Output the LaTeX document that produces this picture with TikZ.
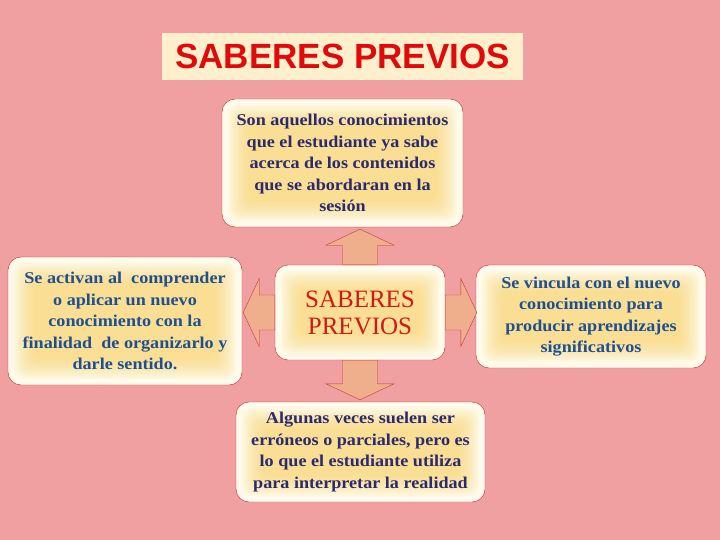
\documentclass[tikz,border=0pt]{standalone}
\usepackage{fontspec}
\setmainfont{Liberation Serif}
\newfontfamily\headfont{Liberation Sans}
\newfontfamily\boxfont{Liberation Serif}[FakeStretch=1.1]
\usepackage{tikz}
\usetikzlibrary{positioning,calc}

\definecolor{bgpink}{RGB}{240,160,160}
\definecolor{titlered}{RGB}{225,10,10}
\definecolor{titlecream}{RGB}{255,240,205}
\definecolor{boxline}{RGB}{190,40,40}
\definecolor{boxcream}{RGB}{255,251,236}
\definecolor{glowyellow}{RGB}{250,212,105}
\definecolor{navytext}{RGB}{42,42,112}
\definecolor{steeltext}{RGB}{30,80,145}
\definecolor{midred}{RGB}{205,25,25}
\definecolor{arrowfill}{RGB}{240,175,140}
\definecolor{arrowline}{RGB}{200,55,55}

\tikzset{
  infobox/.style={draw=boxline, fill=boxcream, rounded corners=13pt, align=center,
    inner sep=0pt,
    path picture={
      \foreach \k in {1,...,10}
        \fill[glowyellow, opacity=0.1, rounded corners=9pt]
          ([shift={(4pt+2.2pt*\k,4pt+2.2pt*\k)}]path picture bounding box.south west)
          rectangle ([shift={(-4pt-2.2pt*\k,-4pt-2.2pt*\k)}]path picture bounding box.north east);
    }},
  boxtext/.style={font=\boxfont\fontsize{16.5}{21.6}\selectfont\bfseries},
  bigarrow/.style={draw=arrowline, fill=arrowfill, line join=miter,
    to path={
      ($(\tikztotarget)!16pt!(\tikztostart)$) coordinate (hb)
      ($(\tikztostart)!17.5pt!90:(\tikztotarget)$)
      -- ($(hb)!17.5pt!90:(\tikztotarget)$)
      -- ($(hb)!34pt!90:(\tikztotarget)$)
      -- (\tikztotarget)
      -- ($(hb)!34pt!-90:(\tikztotarget)$)
      -- ($(hb)!17.5pt!-90:(\tikztotarget)$)
      -- ($(\tikztostart)!17.5pt!-90:(\tikztotarget)$)
      -- cycle
    }}
}

\begin{document}
\begin{tikzpicture}[x=1pt, y=-1pt]

\useasboundingbox (0,0) rectangle (720,540);
\fill[bgpink] (0,0) rectangle (720,540);

% title
\node[fill=titlecream, minimum width=361pt, minimum height=47pt, inner sep=0pt,
  text=titlered, font=\headfont\fontsize{35}{40}\selectfont\bfseries]
  (title) at (342.5,56.5) {SABERES PREVIOS};

% boxes
\node[infobox, boxtext, text=navytext, minimum width=241pt, minimum height=128pt]
  (top) at (342.5,163) {Son aquellos conocimientos\\que el estudiante ya sabe\\acerca de los contenidos\\que se abordaran en la\\sesión};
\node[infobox, boxtext, text=steeltext, minimum width=234pt, minimum height=128pt]
  (left) at (125,321) {Se activan al~ comprender\\o aplicar un nuevo\\conocimiento con la\\finalidad~ de organizarlo y\\darle sentido.};
\node[infobox, text=midred, minimum width=170pt, minimum height=95pt,
  font=\fontsize{25}{27}\selectfont]
  (mid) at (360,312.5) {SABERES\\PREVIOS};
\node[infobox, boxtext, text=steeltext, minimum width=230pt, minimum height=103pt]
  (right) at (591,316.5) {Se vincula con el nuevo\\conocimiento para\\producir aprendizajes\\significativos};
\node[infobox, boxtext, text=navytext, minimum width=249pt, minimum height=100pt]
  (bottom) at (360.5,452) {Algunas veces suelen ser\\erróneos o parciales, pero es\\lo que el estudiante utiliza\\para interpretar la realidad};

% arrows
\draw[bigarrow] (mid.north) to ([yshift=-2pt]mid.north |- top.south);
\draw[bigarrow] (mid.south) to ([yshift=2pt]mid.south |- bottom.north);
\draw[bigarrow] (mid.west) to ([xshift=1pt]mid.west -| left.east);
\draw[bigarrow] (mid.east) to ([xshift=1pt]mid.east -| right.west);

\end{tikzpicture}
\end{document}
